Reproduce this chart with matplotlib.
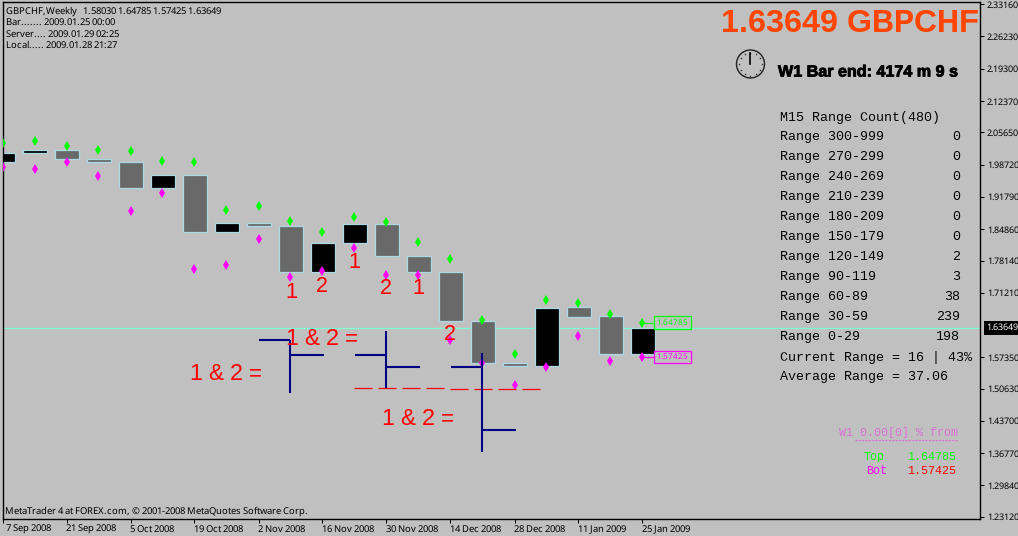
import matplotlib
matplotlib.use('Agg')
import matplotlib.pyplot as plt
from matplotlib.patches import Circle
import matplotlib.patheffects as pe
import math

plt.rcParams['text.antialiased'] = True
plt.rcParams['text.hinting'] = 'native'
plt.rcParams['text.hinting_factor'] = 1
plt.rcParams['font.family'] = ['Noto Sans', 'DejaVu Sans']

BG = '#C0C0C0'
MONO = 'Liberation Mono'
ARIAL = 'Liberation Sans'
SMALL = 6.8
AXIS = 6.5

# weekly candles, bar 0 = 7 Sep 2008
opens = [1.99392, 2.01174, 2.01904, 1.99972, 1.99328, 1.93661, 1.96537, 1.84301, 1.86233,
         1.85546, 1.75628, 1.81940, 1.86018, 1.79149, 1.75714, 1.65196, 1.56180, 1.55535,
         1.68201, 1.66269, 1.58030]
closes = [2.01324, 2.01904, 1.99972, 1.99328, 1.93661, 1.96537, 1.84301, 1.86233, 1.85546,
          1.75628, 1.81940, 1.86018, 1.79149, 1.75714, 1.65196, 1.56180, 1.55535, 1.67986,
          1.66054, 1.58111, 1.63649]
tops = [2.03407, 2.03836, 2.02763, 2.01904, 2.01689, 1.99543, 1.99328, 1.89024, 1.89883,
        1.86663, 1.84301, 1.87521, 1.86448, 1.82154, 1.78505, 1.65410, 1.58111, 1.69704,
        1.69060, 1.66698, 1.64785]
bots = [1.98255, 1.97826, 1.99328, 1.96323, 1.88809, 1.92673, 1.76358, 1.77217, 1.82798,
        1.74641, 1.75929, 1.80866, 1.75070, 1.75070, 1.61117, 1.56180, 1.51457, 1.55321,
        1.61976, 1.56609, 1.57425]
current = 1.63649
week_hi = 1.64785
week_lo = 1.57425

y_ticks = [2.33160, 2.26230, 2.19300, 2.12370, 2.05650, 1.98720, 1.91790, 1.84860, 1.78140,
           1.71210, 1.57350, 1.50630, 1.43700, 1.36770, 1.29840, 1.23120]
x_ticks = [0, 2, 4, 6, 8, 10, 12, 14, 16, 18, 20]
x_labels = ['  7 Sep 2008', '21 Sep 2008', '5 Oct 2008', '19 Oct 2008', '2 Nov 2008', '16 Nov 2008',
            '30 Nov 2008', '14 Dec 2008', '28 Dec 2008', '11 Jan 2009', '25 Jan 2009']

# hand drawn navy fractal marks: bar of the stem, stem low/high, left stub price, right stub price
stem_bars = [9, 12, 15]
stem_low = [1.49589, 1.50813, 1.36988]
stem_high = [1.61032, 1.62899, 1.58326]
stub_left = [1.61032, 1.57811, 1.55235]
stub_right = [1.57811, 1.55235, 1.41711]
dash_levels = [1.50813, 1.50597]
dash_from = [11, 14]
dash_to = [14, 16.8]

range_names = ['300-999', '270-299', '240-269', '210-239', '180-209', '150-179',
               '120-149', '90-119', '60-89', '30-59', '0-29']
range_counts = [0, 0, 0, 0, 0, 0, 2, 3, 38, 239, 198]

n_labels = ['1', '2', '1', '2', '1', '2']
n_x = [291, 322, 354, 386, 418, 450]
n_y = [293, 287, 262, 289, 289, 335]
eq_x = [190, 286, 382]
eq_y = [374, 339, 419]

W, H = 1018, 536
fig = plt.figure(figsize=(W / 100, H / 100), dpi=100, facecolor=BG)
ax = fig.add_axes([2.5 / W, 1 - 519 / H, 977.5 / W, 517 / H], facecolor=BG)
ax.set_xlim(0, 977.5 / 32)
ax.set_ylim(1.22648, 2.33632)

for s in ['top', 'left', 'bottom', 'right']:
    ax.spines[s].set_linewidth(1.0)
    ax.spines[s].set_color('black')

ax.yaxis.tick_right()
ax.set_yticks(y_ticks)
ax.set_yticklabels(['%.5f' % v for v in y_ticks])
ax.set_xticks(x_ticks)
ax.set_xticklabels(x_labels, ha='left')
ax.tick_params(axis='y', length=3, width=0.72, pad=2, labelsize=AXIS)
ax.tick_params(axis='x', length=3, width=0.72, pad=1, labelsize=SMALL)

ax.axhline(current, color='#7FFFD4', lw=0.9, zorder=1)

# candles
for i in range(len(opens)):
    lo = min(opens[i], closes[i])
    hi = max(opens[i], closes[i])
    col = 'black' if closes[i] > opens[i] else '#696969'
    ax.bar(i - 0.35, hi - lo, bottom=lo, width=0.75, align='edge', color=col,
           edgecolor='#ADD8E6', linewidth=0.9, zorder=2)

xs = list(range(len(opens)))
ax.plot(xs, tops, 'd', color='#00FF00', ms=5.2, mew=0, zorder=3)
ax.plot(xs, bots, 'd', color='#FF00FF', ms=5.2, mew=0, zorder=3)

# red dashes
for i in range(len(dash_levels)):
    ax.plot([dash_from[i], dash_to[i]], [dash_levels[i], dash_levels[i]], color='#FF0000', lw=0.9,
            dashes=(18 / 1.25, 6 / 1.25), zorder=4)

# navy marks
for i in range(len(stem_bars)):
    b = stem_bars[i]
    ax.plot([b, b], [stem_low[i], stem_high[i]], color='#000080', lw=1.5, zorder=5, solid_capstyle='butt')
    ax.plot([b - 0.98, b], [stub_left[i], stub_left[i]], color='#000080', lw=1.5, zorder=5, solid_capstyle='butt')
    ax.plot([b, b + 1.05], [stub_right[i], stub_right[i]], color='#000080', lw=1.5, zorder=5, solid_capstyle='butt')

# top/bot price tags on the last bar
for val, col in [(week_hi, '#00FF00'), (week_lo, '#FF00FF')]:
    ax.plot([20, 20.37], [val, val], color=col, lw=0.9, zorder=3)
    ax.text(20.43, val, '%.5f' % val, color=col, fontsize=5.8, va='center', ha='left', zorder=6,
            bbox=dict(fc='none', ec=col, lw=0.9, pad=1.6))

# current price box on the axis
ax.text(1.0065, current, '%.5f' % current, color='white', fontsize=AXIS, va='center', ha='left',
        transform=ax.get_yaxis_transform(), zorder=6, clip_on=False,
        bbox=dict(fc='black', ec='black', lw=0, pad=2.0))

# overlay in pixels for the indicator texts
ov = fig.add_axes([0, 0, 1, 1], facecolor='none')
ov.set_xlim(0, W)
ov.set_ylim(H, 0)
ov.axis('off')

ov.text(6.5, 11, 'GBPCHF,Weekly   1.58030 1.64785 1.57425 1.63649', fontsize=SMALL, va='center')
ov.text(6.5, 22, 'Bar....... 2009.01.25 00:00', fontsize=SMALL, va='center')
ov.text(6.5, 34, 'Server.... 2009.01.29 02:25', fontsize=SMALL, va='center')
ov.text(6.5, 45, 'Local..... 2009.01.28 21:27', fontsize=SMALL, va='center')
ov.text(5, 511, 'MetaTrader 4 at FOREX.com, \u00a9 2001-2008 MetaQuotes Software Corp.', fontsize=SMALL, va='center')

ov.text(979.5, 24, '%.5f GBPCHF' % current, color='#FF4500', fontsize=23.1, fontweight='bold',
        family=ARIAL, ha='right', va='center')
ov.text(778, 72, 'W1 Bar end: 4174 m 9 s', color='black', fontsize=11.6, fontweight='bold',
        family=ARIAL, va='center', path_effects=[pe.withStroke(linewidth=0.6, foreground='black')])

# clock
ov.add_patch(Circle((750.5, 64), 14, fc='none', ec='#202020', lw=1.0))
for h in range(12):
    a = math.radians(h * 30)
    ov.plot([750.5 + 11.5 * math.sin(a)], [64 - 11.5 * math.cos(a)], 's', color='#303030', ms=1, mew=0)
ov.plot([750.5, 750.5], [53, 64], color='black', lw=1.2)

# range table
ov.text(780, 117, 'M15 Range Count(480)', family=MONO, fontsize=9.4, va='center')
for i in range(len(range_names)):
    y = 137 + 20 * i
    ov.text(780, y, 'Range ' + range_names[i], family=MONO, fontsize=9.4, va='center')
    ov.text(960, y, str(range_counts[i]), family=MONO, fontsize=9.4, va='center', ha='right')
ov.text(780, 357, 'Current Range = 16 | 43%', family=MONO, fontsize=9.4, va='center')
ov.text(780, 377, 'Average Range = 37.06', family=MONO, fontsize=9.4, va='center')

# bottom right block
ov.text(958, 432, 'W1 0.00[0] % from', family=MONO, fontsize=8.4, color='#DA70D6', va='center', ha='right')
ov.plot([855, 958], [440, 440], color='#DA70D6', lw=0.8, dashes=(2, 1))
ov.text(864, 457, 'Top', family=MONO, fontsize=8.4, color='#00FF00', va='center')
ov.text(956, 457, '%.5f' % week_hi, family=MONO, fontsize=8.4, color='#00FF00', va='center', ha='right')
ov.text(866, 471, 'Bot', family=MONO, fontsize=8.4, color='#FF00FF', va='center')
ov.text(956, 471, '%.5f' % week_lo, family=MONO, fontsize=8.4, color='#FF0000', va='center', ha='right')

# hand written wave counts
for i in range(len(n_labels)):
    ov.text(n_x[i], n_y[i], n_labels[i], color='#FF0000', family=ARIAL, fontsize=16, ha='center', va='center')
for i in range(len(eq_x)):
    ov.text(eq_x[i], eq_y[i], '1 & 2 =', color='#FF0000', family=ARIAL, fontsize=16.5, va='center')

fig.savefig('out.png', dpi=100, facecolor=BG)
